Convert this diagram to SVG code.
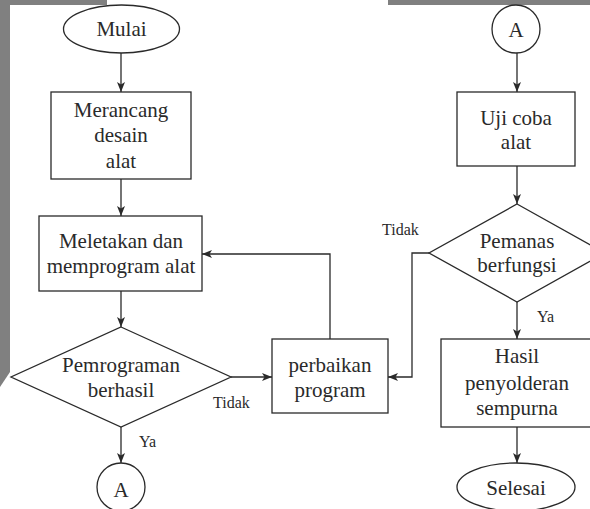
<svg xmlns="http://www.w3.org/2000/svg" width="590" height="509" viewBox="0 0 590 509">
<style>
.shape{fill:#ffffff;stroke:#2a2a2a;stroke-width:1.3}
.t{font-family:'Liberation Serif','Times New Roman',Times,'DejaVu Serif',serif;font-size:21px;fill:#2a2a2a;text-anchor:middle}
.lbl{font-family:'Liberation Serif','Times New Roman',Times,'DejaVu Serif',serif;font-size:16px;fill:#2a2a2a}
.edge{fill:none;stroke:#2a2a2a;stroke-width:1.3}
.gray{fill:#808080}
</style>
<defs>
<marker id="arr" markerUnits="userSpaceOnUse" markerWidth="11" markerHeight="9" refX="10" refY="4" orient="auto">
<path d="M0,0 L10,4 L0,8 L2.5,4 z" fill="#2a2a2a"/>
</marker>
</defs>
<rect width="590" height="509" fill="#ffffff"/>
<g id="page-edge">
<rect class="gray" x="0" y="0" width="107" height="5"/>
<rect class="gray" x="388" y="0" width="202" height="5"/>
<polygon class="gray" points="0,5 10,5 10,372 0,387"/>
</g>
<g id="connectors">
<line class="edge" x1="121" y1="53" x2="121" y2="92" marker-end="url(#arr)"/>
<line class="edge" x1="121" y1="179" x2="121" y2="216" marker-end="url(#arr)"/>
<line class="edge" x1="121" y1="291" x2="121" y2="327" marker-end="url(#arr)"/>
<line class="edge" x1="231" y1="377" x2="272" y2="377" marker-end="url(#arr)"/>
<polyline class="edge" points="330,339 330,254 202,254" marker-end="url(#arr)"/>
<line class="edge" x1="121" y1="427" x2="121" y2="463" marker-end="url(#arr)"/>
<line class="edge" x1="517" y1="53" x2="517" y2="92" marker-end="url(#arr)"/>
<line class="edge" x1="517" y1="166" x2="517" y2="204" marker-end="url(#arr)"/>
<polyline class="edge" points="429,253 412,253 412,377 388,377" marker-end="url(#arr)"/>
<line class="edge" x1="517" y1="302" x2="517" y2="339" marker-end="url(#arr)"/>
<line class="edge" x1="517" y1="427" x2="517" y2="463" marker-end="url(#arr)"/>
<text class="lbl" x="213" y="408">Tidak</text>
<text class="lbl" x="139" y="447">Ya</text>
<text class="lbl" x="382" y="235">Tidak</text>
<text class="lbl" x="537" y="322">Ya</text>
</g>
<g id="mulai">
<ellipse class="shape" cx="121.5" cy="29" rx="58" ry="24"/>
<text class="t" x="121.5" y="36">Mulai</text>
</g>
<g id="merancang">
<rect class="shape" x="51" y="92" width="140" height="87"/>
<text class="t" x="121" y="117">Merancang</text>
<text class="t" x="121" y="142">desain</text>
<text class="t" x="121" y="168">alat</text>
</g>
<g id="meletakan">
<rect class="shape" x="39" y="216" width="163" height="75"/>
<text class="t" x="121" y="248">Meletakan dan</text>
<text class="t" x="121" y="273">memprogram alat</text>
</g>
<g id="pemrograman">
<polygon class="shape" points="121,327 231,377 121,427 11,377"/>
<text class="t" x="121" y="372">Pemrograman</text>
<text class="t" x="121" y="397">berhasil</text>
</g>
<g id="perbaikan">
<rect class="shape" x="272" y="339" width="116" height="74"/>
<text class="t" x="330" y="372">perbaikan</text>
<text class="t" x="330" y="397">program</text>
</g>
<g id="a-left">
<circle class="shape" cx="121" cy="487" r="24"/>
<text class="t" x="121" y="497">A</text>
</g>
<g id="a-right">
<circle class="shape" cx="516" cy="29" r="24"/>
<text class="t" x="516" y="37">A</text>
</g>
<g id="uji">
<rect class="shape" x="457" y="92" width="118" height="74"/>
<text class="t" x="516" y="125">Uji coba</text>
<text class="t" x="516" y="149">alat</text>
</g>
<g id="pemanas">
<polygon class="shape" points="517,204 605,253 517,302 429,253"/>
<text class="t" x="517" y="248">Pemanas</text>
<text class="t" x="517" y="272">berfungsi</text>
</g>
<g id="hasil">
<rect class="shape" x="441" y="339" width="152" height="88"/>
<text class="t" x="517" y="363">Hasil</text>
<text class="t" x="517" y="390">penyolderan</text>
<text class="t" x="517" y="415">sempurna</text>
</g>
<g id="selesai">
<ellipse class="shape" cx="516" cy="487" rx="59" ry="24"/>
<text class="t" x="516" y="495">Selesai</text>
</g>
</svg>
